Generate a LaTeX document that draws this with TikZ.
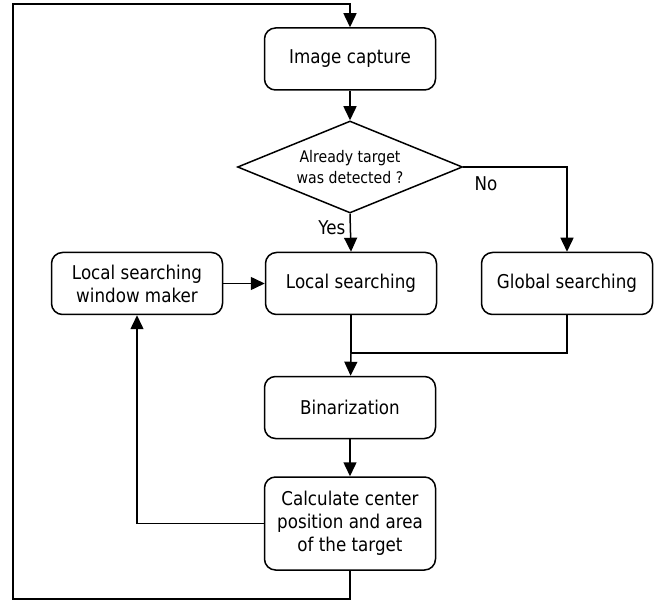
\documentclass[tikz,border=0pt]{standalone}
\usepackage{fontspec}
\setmainfont{DejaVu Sans}[FakeStretch=0.88]
\usetikzlibrary{arrows.meta}
\usetikzlibrary{scopes}
\usetikzlibrary{shapes.geometric}

\begin{document}
\begin{tikzpicture}[x=1pt,y=-1pt,line width=1.5pt]
\useasboundingbox (0,0) rectangle (669,601);
\begin{scope}[every node/.style={draw,rounded corners=11pt,minimum width=171pt,
              minimum height=62pt,align=center,font=\fontsize{19}{23}\selectfont}]
    \node (A) at (350,59) {Image capture};
    \node (C) at (351,283.5) {Local searching};
    \node (D) at (567,283.5) {Global searching};
    \node (E) at (137,283.5) {Local searching\\window maker};
    \node (F) at (350,407.5) {Binarization};
    \node [minimum height=93pt] (G) at (350,523.5) {Calculate center\\position and area\\of the target};
\end{scope}
\node [draw,diamond,aspect=2.45,minimum width=225pt,minimum height=92pt,inner sep=0pt,
       align=center,font=\fontsize{16}{21}\selectfont] (B) at (350,167) {Already target\\was detected ?};

\coordinate (M) at (351,353);
\coordinate (L1) at (13,599);
\coordinate (L2) at (13,4);

\begin{scope}[>={Triangle[length=14pt,width=13pt]},
              every node/.style={font=\fontsize{19}{23}\selectfont}]
    \draw [->] (A) -- (B);
    \draw [->] (B.south) -- node [pos=0.38,left=1pt] {Yes} (C.north);
    \draw [->] (B.east) -| node [pos=0.11,below=6pt] {No} (D.north);
    \draw [->] (E) -- (C);
    \draw (C) -- (M);
    \draw (D.south) |- (M);
    \draw [->] (M) -- (F);
    \draw [->] (F) -- (G);
    \draw [->] (G.west) -| (E.south);
    \draw [->] (G.south) |- (L1) -- (L2) -| (A.north);
\end{scope}
\end{tikzpicture}
\end{document}
